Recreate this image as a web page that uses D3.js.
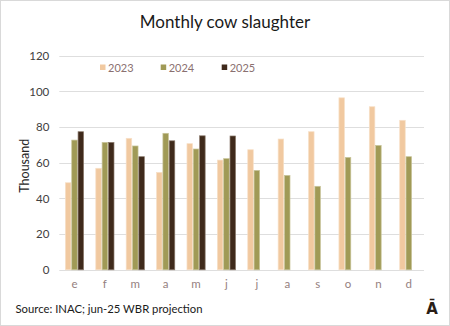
<!DOCTYPE html>
<html>
<head>
<meta charset="utf-8">
<script src="https://cdn.jsdelivr.net/npm/d3@7"></script>
<style>
  html, body { margin: 0; padding: 0; background: #fff; }
  svg { display: block; font-family: Lato, "Open Sans", sans-serif; }
</style>
</head>
<body>
<svg id="chart" width="450" height="326"></svg>
<script>
// Monthly cow slaughter, thousand head
const months = ["e", "f", "m", "a", "m", "j", "j", "a", "s", "o", "n", "d"];
const seriesNames = ["2023", "2024", "2025"];
const values2023 = [48.8, 56.9, 73.7, 54.6, 70.7, 61.5, 67.3, 73.3, 77.4, 96.4, 91.4, 83.8];
const values2024 = [72.7, 71.4, 69.4, 76.5, 67.7, 62.3, 55.7, 52.9, 46.8, 63.0, 69.7, 63.4];
const values2025 = [77.4, 71.4, 63.4, 72.3, 75.1, 75.0, null, null, null, null, null, null];
const yTicks = [0, 20, 40, 60, 80, 100, 120];
const colors = ["#F1C9A0", "#A09A56", "#3F2A1B"];
const strokes = ["#F7E0C8", "#C8C49A", "#8A7A6C"];

const svg = d3.select("#chart");
const W = 450, H = 326;
const plot = { left: 59.3, right: 424, top: 55.7, bottom: 269.8 };

// outer frame
svg.append("rect")
  .attr("x", 0.5).attr("y", 0.5)
  .attr("width", W - 1).attr("height", H - 1)
  .attr("fill", "#fff").attr("stroke", "#d9d9d9");

// title
svg.append("text")
  .attr("x", W / 2).attr("y", 28)
  .attr("text-anchor", "middle")
  .attr("font-size", 17)
  .attr("fill", "#1a1a1a")
  .text("Monthly cow slaughter");

const x = d3.scaleBand()
  .domain(d3.range(months.length))
  .range([plot.left, plot.right])
  .paddingInner(0.375)
  .paddingOuter(0.1875);

const xs = d3.scaleBand()
  .domain(seriesNames)
  .range([0, x.bandwidth()]);

const y = d3.scaleLinear()
  .domain([0, 120])
  .range([plot.bottom, plot.top]);

// gridlines
svg.append("g")
  .selectAll("line")
  .data(yTicks)
  .join("line")
  .attr("x1", plot.left).attr("x2", plot.right)
  .attr("y1", d => Math.round(y(d)) + 0.5)
  .attr("y2", d => Math.round(y(d)) + 0.5)
  .attr("stroke", "#dedede")
  .attr("stroke-width", 1.2);

// y axis labels
const yAxis = svg.append("g")
  .attr("transform", `translate(${plot.left},0)`)
  .call(d3.axisLeft(y).tickValues(yTicks).tickSize(0).tickPadding(10));
yAxis.select(".domain").remove();
yAxis.selectAll("text")
  .attr("font-size", 11.5)
  .attr("font-family", "Lato, sans-serif")
  .attr("fill", "#404040");

// y axis title
svg.append("text")
  .attr("transform", `translate(29,${(plot.top + plot.bottom) / 2 + 3}) rotate(-90)`)
  .attr("text-anchor", "middle")
  .attr("font-size", 12.5)
  .attr("fill", "#262626")
  .text("Thousand");

// bars
const data = [values2023, values2024, values2025];
const groups = svg.append("g");
data.forEach((vals, si) => {
  groups.append("g")
    .selectAll("rect")
    .data(vals.map((v, i) => ({ i, v })).filter(d => d.v != null))
    .join("rect")
    .attr("x", d => x(d.i) + xs(seriesNames[si]) + 0.4)
    .attr("width", xs.bandwidth() - 0.8)
    .attr("y", d => y(d.v))
    .attr("height", d => y(0) - y(d.v))
    .attr("fill", colors[si])
    .attr("stroke", strokes[si])
    .attr("stroke-width", 0.7);
});

// x axis labels
const xAxis = svg.append("g")
  .attr("transform", `translate(0,${plot.bottom})`)
  .call(d3.axisBottom(x).tickFormat(i => months[i]).tickSize(0).tickPadding(10));
xAxis.select(".domain").remove();
xAxis.selectAll("text")
  .attr("font-size", 11.5)
  .attr("font-family", "Lato, sans-serif")
  .attr("fill", "#957f80");

// legend
const legendX = [100, 160.7, 221.7];
const legend = svg.append("g");
seriesNames.forEach((name, si) => {
  legend.append("rect")
    .attr("x", legendX[si]).attr("y", 64.5)
    .attr("width", 5.5).attr("height", 5.5)
    .attr("fill", colors[si]);
  legend.append("text")
    .attr("x", legendX[si] + 8).attr("y", 71.5)
    .attr("font-size", 11)
    .attr("fill", "#8a7070")
    .text(name);
});

// footer
svg.append("text")
  .attr("x", 15.5).attr("y", 313)
  .attr("font-size", 11.3)
  .attr("fill", "#1a1a1a")
  .text("Source: INAC; jun-25 WBR projection");

svg.append("text")
  .attr("x", 432).attr("y", 314)
  .attr("text-anchor", "middle")
  .attr("font-size", 15)
  .attr("font-weight", "bold")
  .attr("font-family", "'DejaVu Sans', sans-serif")
  .attr("fill", "#2a1e16")
  .text("Ā");
</script>
</body>
</html>
